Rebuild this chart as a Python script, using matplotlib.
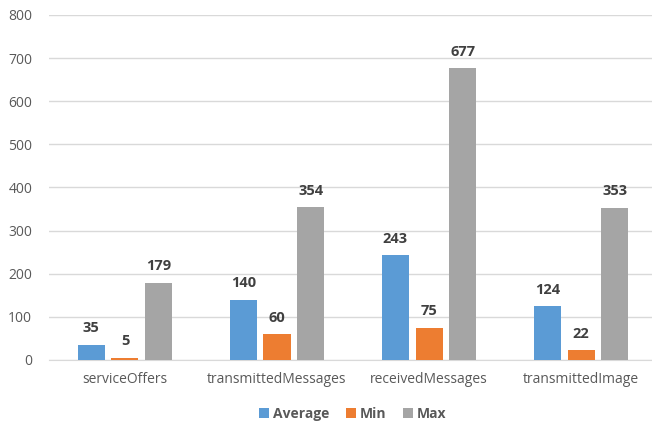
import numpy as np
import matplotlib.pyplot as plt

categories = ['serviceOffers', 'transmittedMessages', 'receivedMessages', 'transmittedImage']
average = [35, 140, 243, 124]
minimum = [5, 60, 75, 22]
maximum = [179, 354, 677, 353]

series = [('Average', average, '#5B9BD5'),
          ('Min', minimum, '#ED7D31'),
          ('Max', maximum, '#A5A5A5')]

plt.rcParams['font.family'] = ['Open Sans', 'DejaVu Sans']

fig = plt.figure(figsize=(6.52, 4.28), dpi=100)
ax = fig.add_axes([0.075, 0.159, 0.933, 0.806])

x = np.arange(len(categories))
width = 0.178
step = 0.222
for i, (name, vals, color) in enumerate(series):
    pos = x + (i - 1) * step
    bars = ax.bar(pos, vals, width, color=color, label=name, zorder=3)
    for b, v in zip(bars, vals):
        ax.text(b.get_x() + b.get_width() / 2, v + 22, str(v),
                ha='center', va='bottom', fontsize=10.5, fontweight='bold',
                color='#404040')

ax.set_xlim(-0.5, 3.5)
ax.set_ylim(0, 800)
ax.set_yticks(range(0, 801, 100))
ax.set_xticks(x)
ax.set_xticklabels(categories)
ax.tick_params(axis='both', length=0, labelsize=10, colors='#595959')
ax.tick_params(axis='x', pad=9)
ax.tick_params(axis='y', pad=12)
ax.grid(axis='y', color='#D9D9D9', linewidth=1, zorder=0)
for s in ['top', 'right', 'left']:
    ax.spines[s].set_visible(False)
ax.spines['bottom'].set_color('#D9D9D9')

ax.legend(loc='upper center', bbox_to_anchor=(0.5, -0.1), ncol=3, frameon=False,
          handlelength=0.7, handleheight=0.7, handletextpad=0.3,
          columnspacing=1.2, prop={'weight': 'bold', 'size': 10},
          labelcolor='#595959')

fig.savefig('out.png', dpi=100)
